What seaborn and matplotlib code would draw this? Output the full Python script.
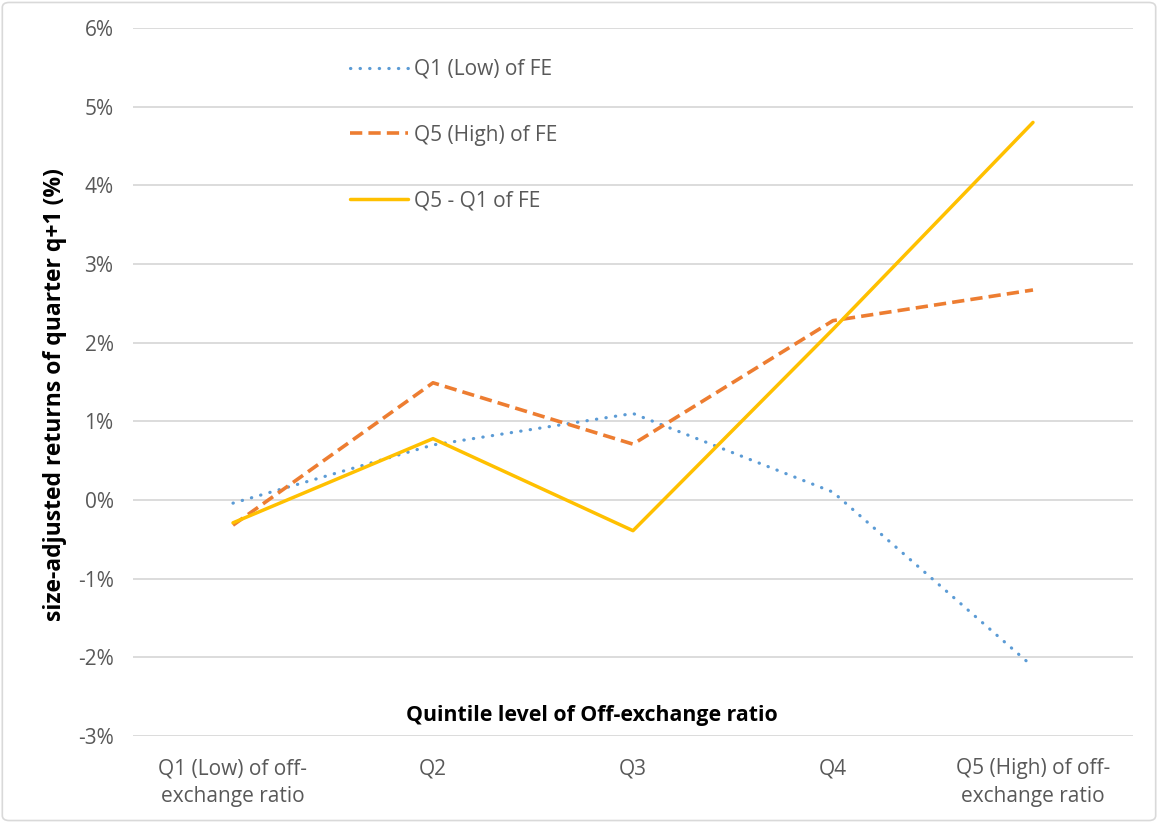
import matplotlib
matplotlib.use("Agg")
import matplotlib.pyplot as plt
import seaborn as sns
import pandas as pd
from matplotlib.patches import FancyBboxPatch
from matplotlib.ticker import FuncFormatter

categories = ["Q1 (Low) of off-\nexchange ratio", "Q2", "Q3", "Q4",
              "Q5 (High) of off-\nexchange ratio"]
q1_low_fe = [-0.04, 0.70, 1.10, 0.10, -2.12]
q5_high_fe = [-0.32, 1.49, 0.71, 2.28, 2.67]
q5_minus_q1 = [-0.29, 0.78, -0.39, 2.17, 4.80]
series_names = ["Q1 (Low) of FE", "Q5 (High) of FE", "Q5 - Q1 of FE"]
y_ticks = [-3, -2, -1, 0, 1, 2, 3, 4, 5, 6]

sns.set_theme(style="white")
plt.rcParams["font.family"] = ["Open Sans", "DejaVu Sans"]

fig = plt.figure(figsize=(11.58, 8.23), dpi=100)
ax = fig.add_axes([133 / 1158, 87 / 823, 1000 / 1158, 708 / 823])

colors = ["#5B9BD5", "#ED7D31", "#FFC000"]
styles = [
    dict(linestyle=(0, (0.1, 2.9)), dash_capstyle="round", linewidth=2.3),
    dict(linestyle=(0, (3.4, 1.7)), dash_capstyle="butt", linewidth=2.6),
    dict(linestyle="-", linewidth=2.5),
]

for name, vals, col, st in zip(series_names, [q1_low_fe, q5_high_fe, q5_minus_q1], colors, styles):
    df = pd.DataFrame({"pos": range(len(categories)), "val": vals})
    sns.lineplot(data=df, x="pos", y="val", ax=ax, color=col, label=name, **st)

ax.set_xlim(-0.5, len(categories) - 0.5)
ax.set_ylim(-3, 6)
ax.set_yticks(y_ticks)
ax.yaxis.set_major_formatter(FuncFormatter(lambda v, _: f"{v:.0f}%"))
ax.set_xticks(range(len(categories)))
ax.set_xticklabels(categories)
ax.grid(axis="y", color="#d9d9d9", linewidth=1.3)
ax.set_axisbelow(True)
for s in ax.spines.values():
    s.set_visible(False)
ax.tick_params(axis="both", length=0, labelsize=15, labelcolor="#595959")
ax.tick_params(axis="y", pad=14)
ax.tick_params(axis="x", pad=16)
for t in ax.get_xticklabels():
    t.set_linespacing(1.45)

ax.set_xlabel("Quintile level of Off-exchange ratio", fontsize=15.3, fontweight="bold", color="black")
ax.xaxis.set_label_coords(0.4585, 0.044)
ax.set_ylabel("size-adjusted returns of quarter q+1 (%)", fontsize=16.5, fontweight="bold", color="black")
ax.yaxis.set_label_coords(-0.066, 0.482)

leg = ax.legend(loc="upper left", bbox_to_anchor=(0.207, 0.971), frameon=False,
                fontsize=15, handlelength=2.75, labelspacing=2.15, handletextpad=0.3,
                borderpad=0)
for t in leg.get_texts():
    t.set_color("#595959")

fig.patches.append(FancyBboxPatch((0.002, 0.003), 0.996, 0.994, boxstyle="round,pad=0,rounding_size=0.006",
                                  transform=fig.transFigure, fill=False, edgecolor="#d9d9d9", linewidth=1.2))

fig.savefig("out.png", dpi=100)
